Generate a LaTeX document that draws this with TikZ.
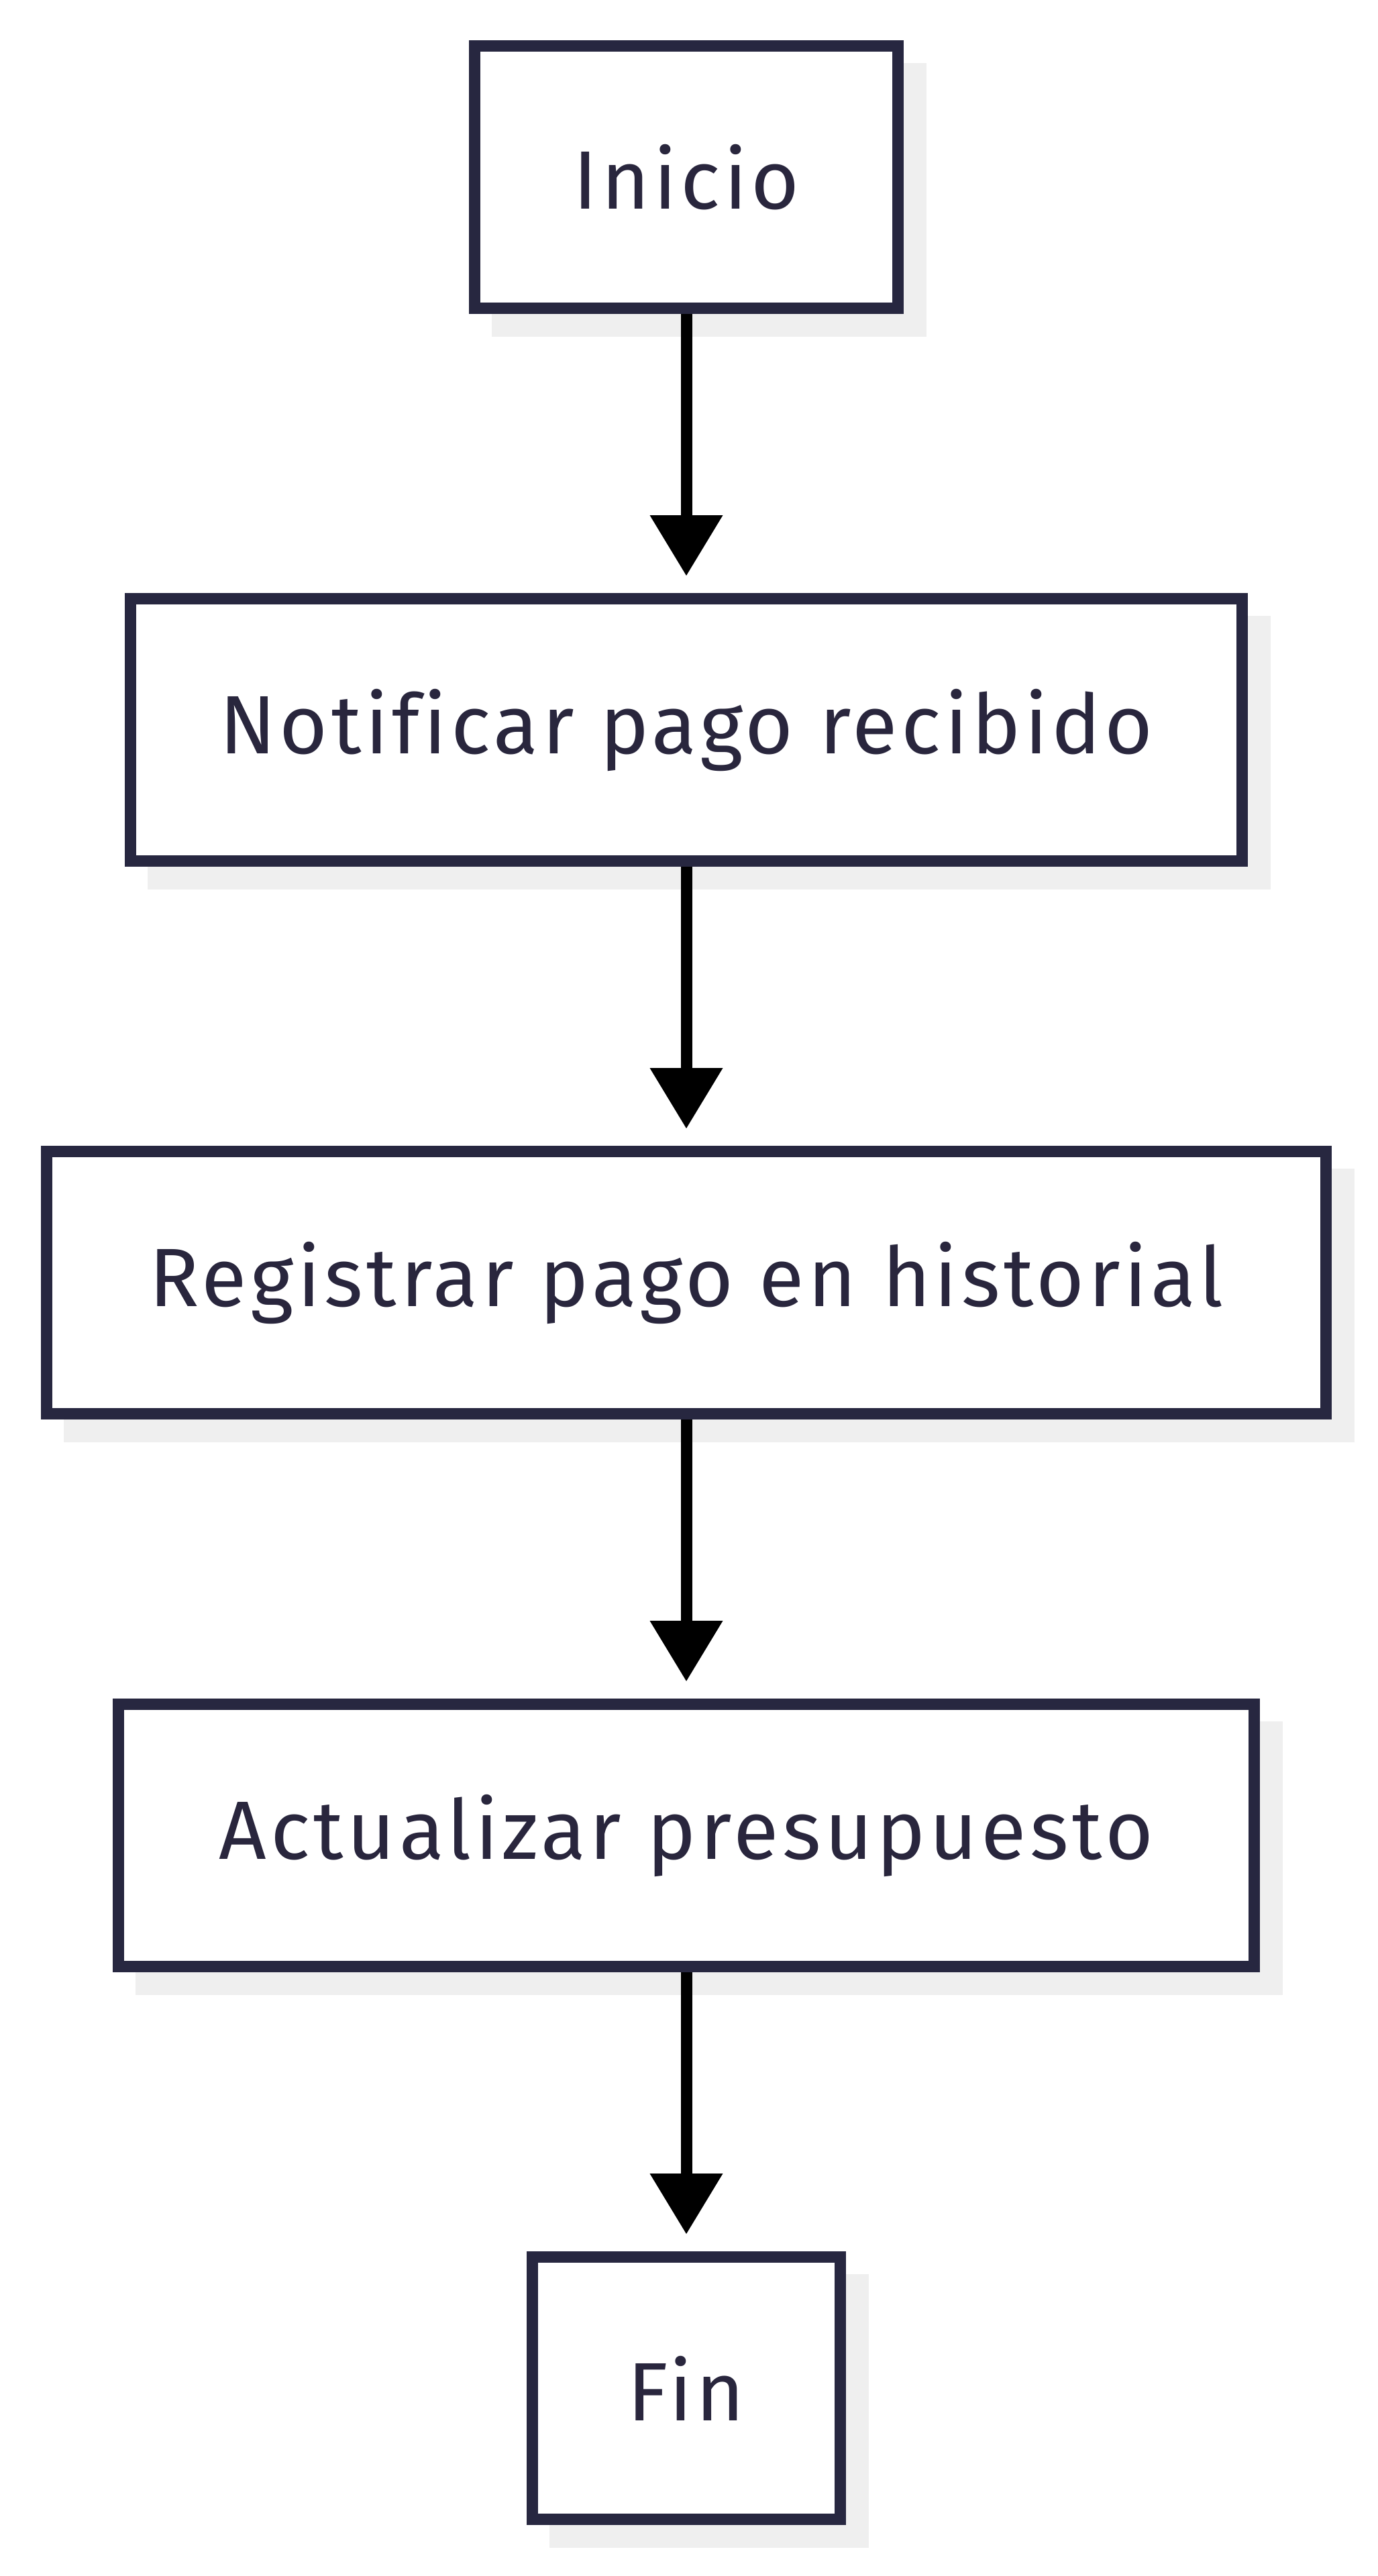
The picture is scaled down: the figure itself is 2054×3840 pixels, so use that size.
\documentclass[tikz,border=0pt]{standalone}
\usepackage{fontspec}
\setmainfont[Ligatures=CommonOff,LetterSpace=4.5]{Fira Sans}
\usetikzlibrary{arrows.meta,backgrounds}
\definecolor{boxline}{HTML}{272740}
\definecolor{txtc}{HTML}{29263D}
\definecolor{shadowc}{HTML}{EFEFEF}
\tikzset{
  procbox/.style={draw=boxline, line width=8.5pt, fill=white, minimum height=195.5pt,
    inner sep=0pt, text=txtc, font=\fontsize{61.7pt}{74pt}\selectfont},
  flowarrow/.style={draw=black, line width=8.5pt,
    -{Triangle[length=45pt,width=54.5pt,line width=0pt]}, shorten >=13pt},
  boxshadow/.style={fill=shadowc}
}
\newcommand{\shadowof}[1]{%
  \fill[boxshadow] ([shift={(17pt,-17pt)}]#1.south west) rectangle ([shift={(17pt,-17pt)}]#1.north east);}
\begin{document}
\begin{tikzpicture}[x=0.5pt,y=-0.5pt]
\useasboundingbox (0,0) rectangle (2054,3840);
\node[procbox, minimum width=315.5pt] (inicio) at (1023,264) {Inicio};
\node[procbox, minimum width=828.5pt] (notif) at (1023,1088) {Notificar pago recibido};
\node[procbox, minimum width=953.5pt] (reg) at (1023,1912) {Registrar pago en historial};
\node[procbox, minimum width=846.5pt] (act) at (1023,2736) {Actualizar presupuesto};
\node[procbox, minimum width=229.5pt] (fin) at (1023,3560) {Fin};
\begin{scope}[on background layer]
\shadowof{inicio}
\shadowof{notif}
\shadowof{reg}
\shadowof{act}
\shadowof{fin}
\end{scope}
\draw[flowarrow] (inicio.south) -- (notif.north);
\draw[flowarrow] (notif.south) -- (reg.north);
\draw[flowarrow] (reg.south) -- (act.north);
\draw[flowarrow] (act.south) -- (fin.north);
\end{tikzpicture}
\end{document}
